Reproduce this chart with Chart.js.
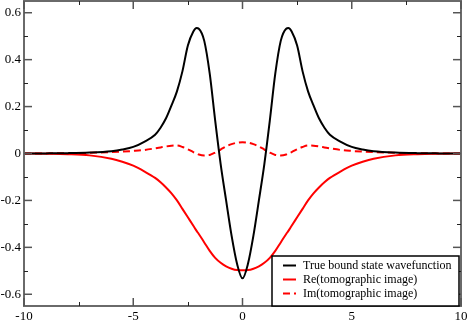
<!DOCTYPE html>
<html>
<head>
<meta charset="utf-8">
<script src="https://cdn.jsdelivr.net/npm/chart.js@4.4.0/dist/chart.umd.min.js"></script>
<style>
  html, body { margin: 0; padding: 0; background: #fff; }
  #wrap { width: 467px; height: 321px; }
</style>
</head>
<body>
<div id="wrap"><canvas id="chart"></canvas></div>
<script>
// values (mirror symmetric around x = 0)
const xs = [-10, -9, -8, -7, -6, -5.5, -5, -4.5, -4, -3.75, -3.5, -3.25, -3, -2.75, -2.5, -2.25, -2.1, -2, -1.75, -1.5, -1.25, -1, -0.75, -0.5, -0.25, 0,
            0.25, 0.5, 0.75, 1, 1.25, 1.5, 1.75, 2, 2.1, 2.25, 2.5, 2.75, 3, 3.25, 3.5, 3.75, 4, 4.5, 5, 5.5, 6, 7, 8, 9, 10];

const trueWave = [0, 0.0005, 0.0015, 0.004, 0.01, 0.017, 0.028, 0.05, 0.08, 0.11, 0.15, 0.205, 0.265, 0.35, 0.46, 0.52, 0.535, 0.532, 0.48, 0.34, 0.14, -0.045, -0.2, -0.35, -0.47, -0.532,
                  -0.47, -0.35, -0.2, -0.045, 0.14, 0.34, 0.48, 0.532, 0.535, 0.52, 0.46, 0.35, 0.265, 0.205, 0.15, 0.11, 0.08, 0.05, 0.028, 0.017, 0.01, 0.004, 0.0015, 0.0005, 0];

const reImage = [0, -0.001, -0.003, -0.008, -0.022, -0.035, -0.052, -0.076, -0.104, -0.123, -0.145, -0.17, -0.2, -0.236, -0.272, -0.308, -0.33, -0.343, -0.379, -0.415, -0.445, -0.466, -0.481, -0.491, -0.497, -0.498,
                 -0.497, -0.491, -0.481, -0.466, -0.445, -0.415, -0.379, -0.343, -0.33, -0.308, -0.272, -0.236, -0.2, -0.17, -0.145, -0.123, -0.104, -0.076, -0.052, -0.035, -0.022, -0.008, -0.003, -0.001, 0];

const imImage = [0, 0.0005, 0.001, 0.003, 0.006, 0.008, 0.011, 0.015, 0.022, 0.026, 0.03, 0.033, 0.034, 0.028, 0.018, 0.006, 0.0, -0.004, -0.008, -0.006, 0.004, 0.017, 0.03, 0.04, 0.046, 0.048,
                 0.046, 0.04, 0.03, 0.017, 0.004, -0.006, -0.008, -0.004, 0.0, 0.006, 0.018, 0.028, 0.034, 0.033, 0.03, 0.026, 0.022, 0.015, 0.011, 0.008, 0.006, 0.003, 0.001, 0.0005, 0];

const xTicks = [-10, -5, 0, 5, 10];
const xMinor = [-7.5, -2.5, 2.5, 7.5];
const yTicks = [-0.6, -0.4, -0.2, 0, 0.2, 0.4, 0.6];
const yMinor = [-0.5, -0.3, -0.1, 0.1, 0.3, 0.5];

const labels = ['True bound state wavefunction', 'Re(tomographic image)', 'Im(tomographic image)'];

function pts(ys) {
    return xs.map((x, i) => ({ x: x, y: ys[i] }));
}

const serif = '"Liberation Serif", "DejaVu Serif", serif';

// frame with inward ticks, grace style
const framePlugin = {
    id: 'frame',
    afterDatasetsDraw(chart) {
        const ctx = chart.ctx;
        const a = chart.chartArea;
        const sx = chart.scales.x, sy = chart.scales.y;
        ctx.save();
        ctx.strokeStyle = '#6a6a6a';
        ctx.lineWidth = 2;
        ctx.strokeRect(a.left, a.top, a.right - a.left, a.bottom - a.top);

        function tick(x1, y1, x2, y2) {
            ctx.beginPath();
            ctx.moveTo(x1, y1);
            ctx.lineTo(x2, y2);
            ctx.stroke();
        }
        ctx.lineWidth = 1.5;
        ctx.strokeStyle = '#555';
        xTicks.forEach(v => {
            const p = sx.getPixelForValue(v);
            tick(p, a.bottom, p, a.bottom - 8);
            tick(p, a.top, p, a.top + 8);
        });
        yTicks.forEach(v => {
            const p = sy.getPixelForValue(v);
            tick(a.left, p, a.left + 8, p);
            tick(a.right, p, a.right - 8, p);
        });
        ctx.lineWidth = 1;
        ctx.strokeStyle = '#222';
        xMinor.forEach(v => {
            const p = Math.round(sx.getPixelForValue(v)) + 0.5;
            tick(p, a.bottom, p, a.bottom - 4);
            tick(p, a.top, p, a.top + 4);
        });
        yMinor.forEach(v => {
            const p = Math.round(sy.getPixelForValue(v)) + 0.5;
            tick(a.left, p, a.left + 4, p);
            tick(a.right, p, a.right - 4, p);
        });
        ctx.restore();
    },
    afterDraw(chart) {
        // legend box in the lower right corner
        const ctx = chart.ctx;
        const a = chart.chartArea;
        const bx = 272, by = 256, bw = a.right - 2 - bx, bh = a.bottom - by;
        ctx.save();
        ctx.fillStyle = '#fff';
        ctx.fillRect(bx, by, bw, bh);
        ctx.strokeStyle = '#000';
        ctx.lineWidth = 1.5;
        ctx.strokeRect(bx, by, bw, bh);
        ctx.font = '12px ' + serif;
        ctx.textBaseline = 'middle';
        chart.data.datasets.forEach((ds, i) => {
            const y = by + 9.5 + i * 14;
            ctx.strokeStyle = ds.borderColor;
            ctx.lineWidth = 2;
            ctx.setLineDash(ds.borderDash || []);
            ctx.beginPath();
            ctx.moveTo(283, y);
            ctx.lineTo(296, y);
            ctx.stroke();
            ctx.setLineDash([]);
            ctx.fillStyle = '#000';
            ctx.fillText(ds.label, 303, y);
        });
        ctx.restore();
    }
};

const chart = new Chart(document.getElementById('chart'), {
    type: 'line',
    data: {
        datasets: [{
            label: labels[0],
            data: pts(trueWave),
            borderColor: '#000000',
            borderWidth: 2
        }, {
            label: labels[1],
            data: pts(reImage),
            borderColor: '#ff0000',
            borderWidth: 2
        }, {
            label: labels[2],
            data: pts(imImage),
            borderColor: '#ff0000',
            borderWidth: 2,
            borderDash: [7, 4]
        }]
    },
    options: {
        responsive: true,
        maintainAspectRatio: false,
        animation: false,
        layout: { padding: { top: 1, right: 6, left: 0, bottom: 0 } },
        elements: {
            point: { radius: 0 },
            line: { cubicInterpolationMode: 'monotone', fill: false }
        },
        plugins: {
            legend: { display: false },
            tooltip: { enabled: false }
        },
        scales: {
            x: {
                type: 'linear',
                min: -10,
                max: 10,
                grid: { display: false, drawTicks: false },
                border: { display: false },
                afterBuildTicks: axis => { axis.ticks = xTicks.map(v => ({ value: v })); },
                afterFit: axis => {
                    axis.height = 15;
                    axis.paddingLeft = 0;
                    axis.paddingRight = 0;
                },
                ticks: {
                    padding: 3,
                    maxRotation: 0,
                    autoSkip: false,
                    color: '#000',
                    font: { family: serif, size: 13 },
                    callback: v => String(v)
                }
            },
            y: {
                min: -0.65,
                max: 0.65,
                grid: { display: false, drawTicks: false },
                border: { display: false },
                afterBuildTicks: axis => { axis.ticks = yTicks.map(v => ({ value: v })); },
                afterFit: axis => {
                    axis.width = 24;
                    axis.paddingTop = 0;
                    axis.paddingBottom = 0;
                },
                ticks: {
                    padding: 3,
                    autoSkip: false,
                    color: '#000',
                    font: { family: serif, size: 13 },
                    callback: v => String(+v.toFixed(1))
                }
            }
        }
    },
    plugins: [framePlugin]
});
</script>
</body>
</html>
